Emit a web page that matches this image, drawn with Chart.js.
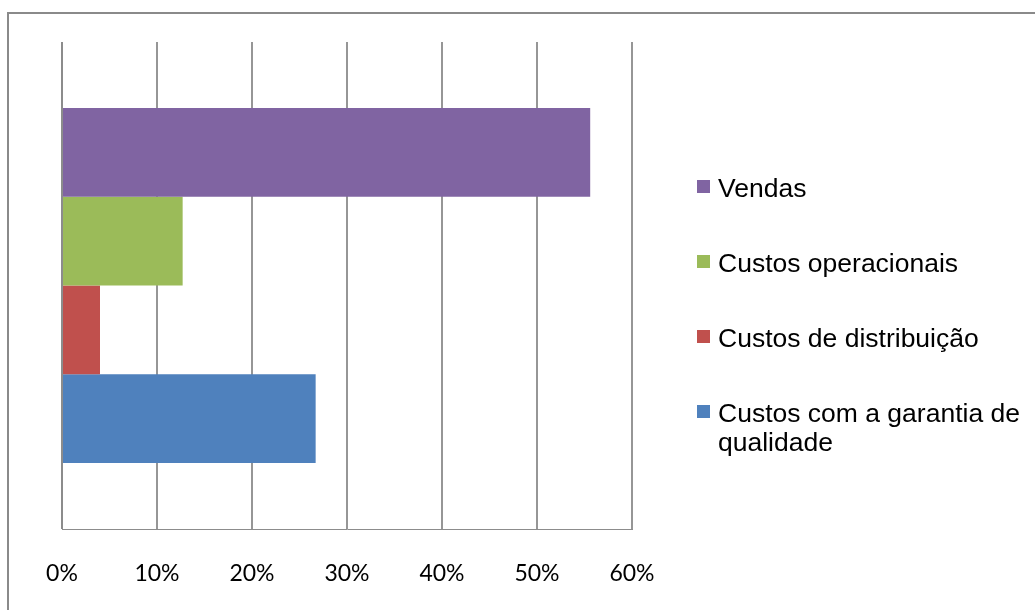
<!DOCTYPE html>
<html>
<head>
<meta charset="utf-8">
<script src="https://cdn.jsdelivr.net/npm/chart.js@4/dist/chart.umd.min.js"></script>
<style>
  html, body { margin: 0; padding: 0; background: #fff; }
  #wrap { width: 1035px; height: 610px; }
</style>
</head>
<body>
<div id="wrap"><canvas id="costChart" width="1035" height="610"></canvas></div>
<script>
  const categories = [''];
  const seriesNames = [
    'Vendas',
    'Custos operacionais',
    'Custos de distribuição',
    ['Custos com a garantia de', 'qualidade']
  ];
  const seriesValues = [55.6, 12.7, 4.0, 26.7];
  const seriesColors = ['#8064A2', '#9BBB59', '#C0504D', '#4F81BD'];
  const tickValues = [0, 10, 20, 30, 40, 50, 60];

  // outer frame, only its top and left edges fall inside the canvas
  const framePlugin = {
    id: 'frame',
    beforeDraw(chart) {
      const c = chart.ctx;
      c.save();
      c.strokeStyle = '#8a8a8a';
      c.lineWidth = 2;
      c.strokeRect(8, 13, 2000, 2000);
      c.restore();
    },
    // the 0% line sits on top of the bars
    afterDatasetsDraw(chart) {
      const c = chart.ctx;
      const x0 = chart.scales.x.getPixelForValue(0);
      const area = chart.chartArea;
      c.save();
      c.strokeStyle = '#8c8c8c';
      c.lineWidth = 2;
      c.beginPath();
      c.moveTo(x0, area.top);
      c.lineTo(x0, area.bottom);
      c.stroke();
      c.restore();
    }
  };

  // legend on the right: square swatch + label, one row per series
  const sideLegend = {
    id: 'sideLegend',
    afterDraw(chart) {
      const c = chart.ctx;
      c.save();
      c.font = '26.5px "Liberation Sans", Arial, sans-serif';
      c.textBaseline = 'alphabetic';
      chart.data.datasets.forEach((ds, i) => {
        const top = 180 + i * 75;
        c.fillStyle = ds.backgroundColor;
        c.fillRect(697, top, 13, 13);
        c.fillStyle = '#000';
        const lines = Array.isArray(ds.label) ? ds.label : [ds.label];
        lines.forEach((line, j) => {
          c.fillText(line, 718, top + 17 + j * 29);
        });
      });
      c.restore();
    }
  };

  const ctx = document.getElementById('costChart').getContext('2d');

  const costChart = new Chart(ctx, {
    type: 'bar',
    data: {
      labels: categories,
      datasets: seriesNames.map((name, i) => ({
        label: name,
        data: [seriesValues[i]],
        backgroundColor: seriesColors[i],
        borderWidth: 0,
        categoryPercentage: 0.729,
        barPercentage: 1
      }))
    },
    options: {
      indexAxis: 'y',
      responsive: false,
      animation: false,
      devicePixelRatio: 1,
      layout: {
        padding: { left: 62, top: 42, right: 403, bottom: 0 }
      },
      scales: {
        x: {
          min: 0,
          max: 60,
          afterBuildTicks(scale) {
            scale.ticks = tickValues.map(v => ({ value: v }));
          },
          afterFit(scale) {
            scale.height = 81;
          },
          grid: {
            color: '#969696',
            lineWidth: 2,
            drawTicks: false
          },
          border: { display: true, color: '#8c8c8c', width: 1 },
          ticks: {
            padding: 31,
            color: '#000',
            font: { family: 'Lato, "Open Sans", sans-serif', size: 23 },
            callback: v => v + '%'
          }
        },
        y: {
          display: false
        }
      },
      plugins: {
        legend: { display: false },
        tooltip: { enabled: false }
      }
    },
    plugins: [framePlugin, sideLegend]
  });
</script>
</body>
</html>
